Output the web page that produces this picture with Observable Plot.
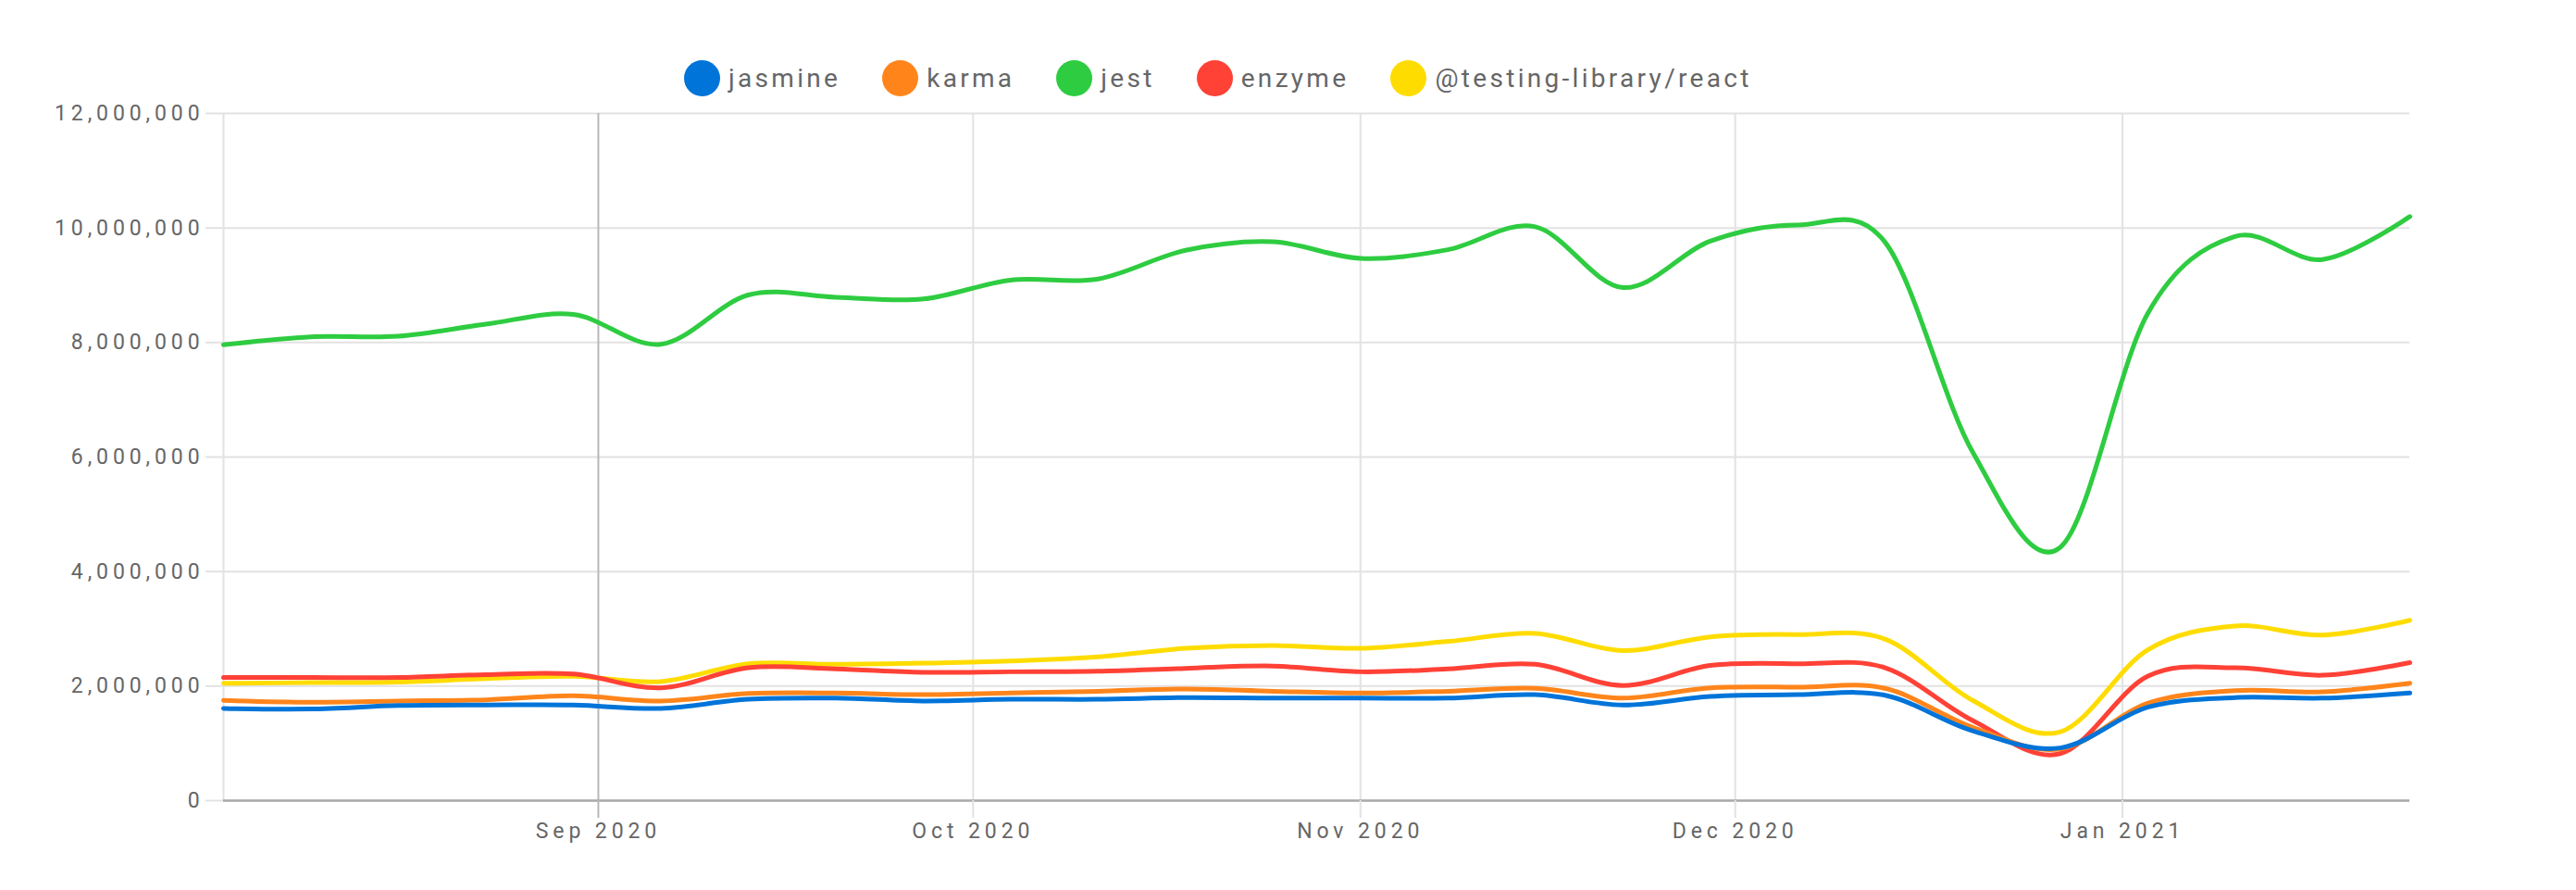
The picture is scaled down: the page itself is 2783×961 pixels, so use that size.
<!DOCTYPE html>
<html><head><meta charset="utf-8">
<script src="https://cdn.jsdelivr.net/npm/d3@7"></script>
<script src="https://cdn.jsdelivr.net/npm/@observablehq/plot@0.6"></script>
<style>
body{margin:0;background:#fff;font-family:Roboto,sans-serif;}
#legend{height:100px;box-sizing:border-box;padding-top:68px;padding-left:739px;display:flex;align-items:center;}
.item{display:flex;align-items:center;margin-right:45px;color:#666;font-size:28px;letter-spacing:3.3px;height:39px;white-space:nowrap}
.dot{width:39px;height:39px;border-radius:50%;margin-right:9px;flex:none}
#chart text{letter-spacing:4.9px}
</style></head><body>
<div id="legend"></div><div id="chart"></div>
<script>
const weeks = ["2020-08-02","2020-08-09","2020-08-16","2020-08-23","2020-08-30","2020-09-06","2020-09-13","2020-09-20","2020-09-27","2020-10-04","2020-10-11","2020-10-18","2020-10-25","2020-11-01","2020-11-08","2020-11-15","2020-11-22","2020-11-29","2020-12-06","2020-12-13","2020-12-20","2020-12-27","2021-01-03","2021-01-10","2021-01-17","2021-01-24"];
const seriesNames = ["jasmine","karma","jest","enzyme","@testing-library/react"];
const seriesColors = ["#0074D9","#FF851B","#2ECC40","#FF4136","#FFDC00"];
const jasmine = [1.61,1.60,1.66,1.67,1.67,1.61,1.77,1.79,1.74,1.77,1.77,1.80,1.79,1.79,1.79,1.85,1.67,1.82,1.85,1.84,1.22,0.92,1.63,1.80,1.79,1.88];
const karma = [1.75,1.72,1.74,1.76,1.83,1.74,1.87,1.88,1.85,1.88,1.91,1.95,1.91,1.88,1.91,1.96,1.79,1.97,1.98,1.96,1.28,0.90,1.70,1.92,1.90,2.05];
const jest = [7.96,8.10,8.11,8.32,8.49,7.97,8.83,8.79,8.76,9.09,9.11,9.61,9.76,9.47,9.62,10.02,8.96,9.77,10.05,9.75,6.09,4.42,8.50,9.85,9.45,10.2];
const enzyme = [2.15,2.15,2.15,2.20,2.21,1.97,2.32,2.30,2.24,2.25,2.26,2.31,2.35,2.25,2.30,2.38,2.01,2.36,2.39,2.32,1.40,0.82,2.17,2.32,2.19,2.41];
const testingLibrary = [2.05,2.06,2.07,2.13,2.17,2.08,2.39,2.38,2.40,2.44,2.51,2.66,2.71,2.66,2.78,2.92,2.62,2.86,2.90,2.82,1.75,1.20,2.63,3.05,2.89,3.15];
const yTicks = [0,2000000,4000000,6000000,8000000,10000000,12000000];
const monthTicks = ["2020-09-01","2020-10-01","2020-11-01","2020-12-01","2021-01-01"];

const values = [jasmine, karma, jest, enzyme, testingLibrary];
const dates = weeks.map(d => new Date(d + "T00:00:00Z"));
const months = monthTicks.map(d => new Date(d + "T00:00:00Z"));
const series = seriesNames.map((name, i) => ({
  name, color: seriesColors[i],
  rows: values[i].map((v, j) => ({date: dates[j], value: v * 1e6}))
}));

// legend
const legend = document.getElementById("legend");
series.forEach(s => {
  const it = document.createElement("div"); it.className = "item";
  const dot = document.createElement("span"); dot.className = "dot"; dot.style.background = s.color;
  const t = document.createElement("span"); t.textContent = s.name;
  it.appendChild(dot); it.appendChild(t); legend.appendChild(it);
});

const sep = months[0];
const otherMonths = months.slice(1);
const fmt = d3.utcFormat("%b %Y");

const lines = series.slice().reverse().map(s =>
  Plot.line(s.rows, {x: "date", y: "value", stroke: s.color, strokeWidth: 5, curve: "cardinal"})
);

const plot = Plot.plot({
  width: 2783, height: 861,
  marginLeft: 241, marginRight: 180, marginTop: 22, marginBottom: 97,
  style: {fontFamily: "Roboto, sans-serif", fontSize: "23px", color: "#666", background: "#fff"},
  x: {type: "utc", domain: [dates[0], dates[dates.length - 1]]},
  y: {domain: [0, 12000000]},
  marks: [
    Plot.gridY(yTicks, {stroke: "#e2e2e2", strokeOpacity: 1, strokeWidth: 2}),
    Plot.ruleX(otherMonths, {stroke: "#e2e2e2", strokeWidth: 2}),
    Plot.ruleX([dates[0]], {stroke: "#e2e2e2", strokeWidth: 2}),
    Plot.ruleX([sep], {stroke: "#b8b8b8", strokeWidth: 2}),
    Plot.ruleY([0], {stroke: "#aaa", strokeWidth: 2.5}),
    Plot.axisY(yTicks, {tickSize: 19, tickPadding: 2, stroke: "#e2e2e2", strokeWidth: 2, fill: "#666", fontSize: 23, tickFormat: d3.format(","), label: null}),
    Plot.axisX(otherMonths, {tickSize: 19, tickPadding: 5, stroke: "#e2e2e2", strokeWidth: 2, fill: "#666", fontSize: 23, tickFormat: fmt, label: null}),
    Plot.axisX([sep], {tickSize: 19, tickPadding: 5, stroke: "#b8b8b8", strokeWidth: 2, fill: "#666", fontSize: 23, tickFormat: fmt, label: null}),
    ...lines
  ]
});
document.getElementById("chart").appendChild(plot);
</script>
</body></html>
